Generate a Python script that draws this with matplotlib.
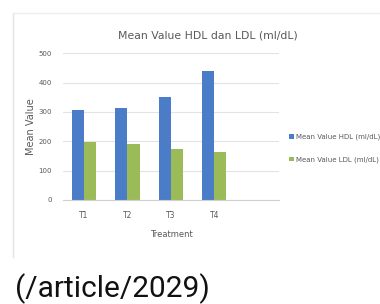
import numpy as np
import matplotlib.pyplot as plt
from matplotlib.lines import Line2D

# Data
treatments = ['T1', 'T2', 'T3', 'T4']
hdl = [307, 312, 350, 438]
ldl = [199, 191, 175, 165]
yticks = [0, 100, 200, 300, 400, 500]

blue = '#4a7cc7'
green = '#9bbb59'
grey = '#595959'
narrow = ['Liberation Sans Narrow', 'DejaVu Sans']

fig = plt.figure(figsize=(3.8, 3.04), dpi=100)
ax = fig.add_axes([63.3/380, 1 - 200/304, 216/380, 146.7/304])

x = np.arange(len(treatments))
w = 0.28
ax.bar(x - w/2, hdl, w, color=blue, label='Mean Value HDL (ml/dL)')
ax.bar(x + w/2, ldl, w, color=green, label='Mean Value LDL (ml/dL)')

ax.set_xlim(-0.48, 4.5)
ax.set_ylim(0, 500)
ax.set_yticks(yticks)
ax.set_yticklabels([str(v) for v in yticks], fontsize=5, color=grey, family=narrow)
ax.set_xticks(x)
ax.set_xticklabels(treatments, fontsize=5.5, color=grey, family=narrow)
ax.tick_params(length=0, pad=8)
ax.tick_params(axis='x', pad=8)
ax.yaxis.grid(True, color='#e3e3e3', linewidth=0.8)
ax.set_axisbelow(True)
for s in ['top', 'right', 'left']:
    ax.spines[s].set_visible(False)
ax.spines['bottom'].set_color('#d0d0d0')

ax.set_xlabel('Treatment', fontsize=6, color=grey, family=narrow, labelpad=7)
ax.set_ylabel('Mean Value', fontsize=7, color=grey, family=narrow, labelpad=2)

fig.text(208/380, 1 - 35/304, 'Mean Value HDL dan LDL (ml/dL)', ha='center', va='center',
         fontsize=7.8, color=grey, family=narrow)

leg = fig.legend(loc='upper left', bbox_to_anchor=(289/380, 1 - 134/304), frameon=False,
                 fontsize=5.0, handlelength=0.7, handleheight=0.7, handletextpad=0.3,
                 labelspacing=2.3, borderaxespad=0, borderpad=0)
for t in leg.get_texts():
    t.set_color(grey)
    t.set_family(narrow)

# chart box border of the screenshot
fig.add_artist(Line2D([13/380, 13/380], [1 - 13/304, 1 - 257/304], color='#e2e2e2', lw=1))
fig.add_artist(Line2D([13/380, 1], [1 - 13/304, 1 - 13/304], color='#eeeeee', lw=1))

fig.text(15/380, 1 - 289/304, '(/article/2029)', ha='left', va='center',
         fontsize=21.5, color='#111111', family=['Roboto', 'DejaVu Sans'])

fig.savefig('out.png', dpi=100)
